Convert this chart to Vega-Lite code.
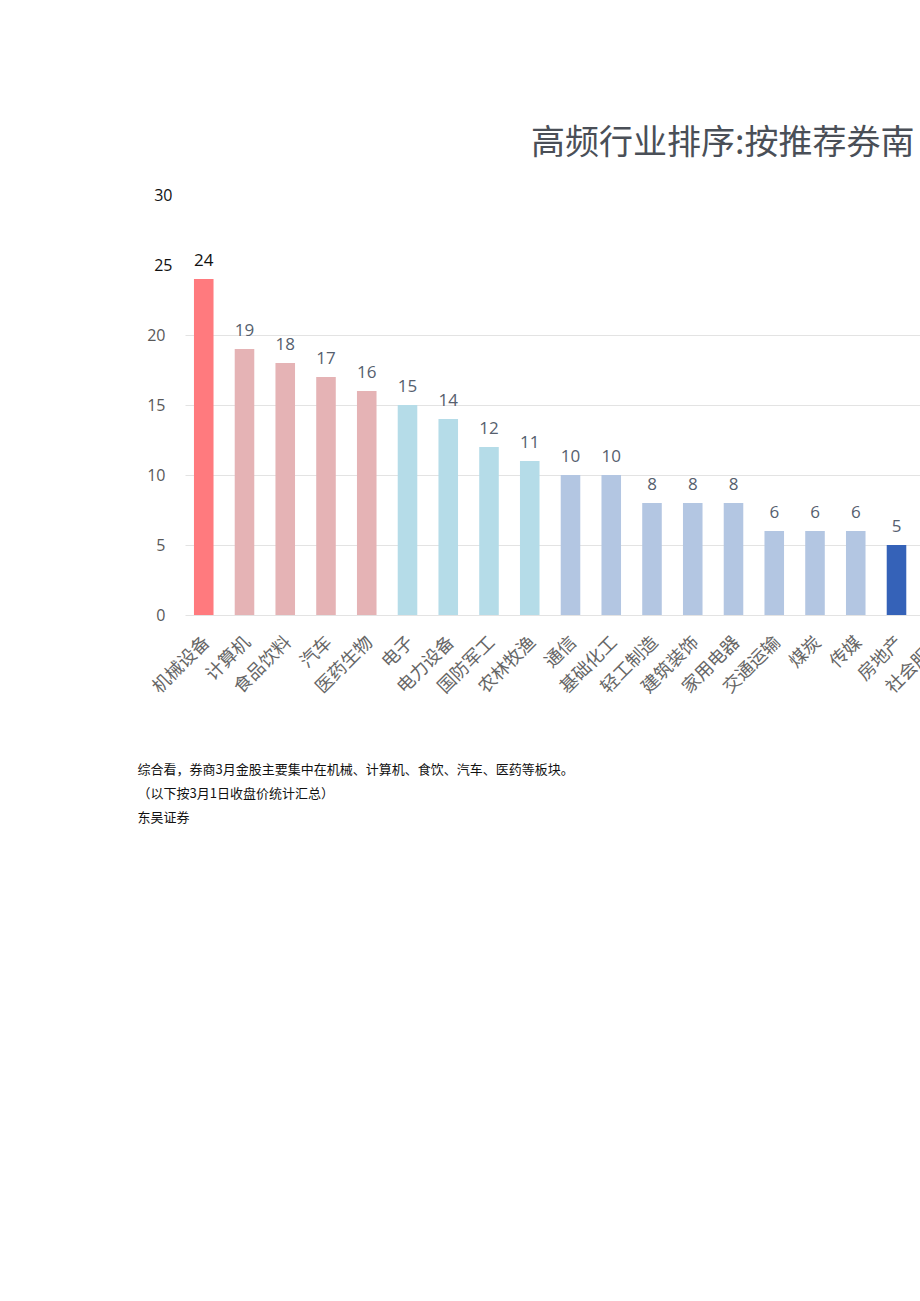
{
  "$schema": "https://vega.github.io/schema/vega-lite/v6.json",
  "autosize": "none",
  "width": 728,
  "height": 420,
  "padding": {"left": 185, "top": 195, "right": 7, "bottom": 686},
  "background": "white",
  "config": {"view": {"stroke": null}},
  "title": {
    "text": "高频行业排序:按推荐券南",
    "anchor": "start",
    "frame": "group",
    "dx": 346,
    "offset": 26,
    "font": "Noto Sans CJK SC",
    "fontSize": 34,
    "fontWeight": "normal",
    "color": "#4a4f57"
  },
  "data": {
    "values": [
      {"industry": "机械设备", "n": 24, "tier": "t1"},
      {"industry": "计算机", "n": 19, "tier": "t2"},
      {"industry": "食品饮料", "n": 18, "tier": "t2"},
      {"industry": "汽车", "n": 17, "tier": "t2"},
      {"industry": "医药生物", "n": 16, "tier": "t2"},
      {"industry": "电子", "n": 15, "tier": "t3"},
      {"industry": "电力设备", "n": 14, "tier": "t3"},
      {"industry": "国防军工", "n": 12, "tier": "t3"},
      {"industry": "农林牧渔", "n": 11, "tier": "t3"},
      {"industry": "通信", "n": 10, "tier": "t4"},
      {"industry": "基础化工", "n": 10, "tier": "t4"},
      {"industry": "轻工制造", "n": 8, "tier": "t4"},
      {"industry": "建筑装饰", "n": 8, "tier": "t4"},
      {"industry": "家用电器", "n": 8, "tier": "t4"},
      {"industry": "交通运输", "n": 6, "tier": "t4"},
      {"industry": "煤炭", "n": 6, "tier": "t4"},
      {"industry": "传媒", "n": 6, "tier": "t4"},
      {"industry": "房地产", "n": 5, "tier": "t5"},
      {"industry": "社会服务", "n": 5, "tier": "t5"}
    ]
  },
  "encoding": {
    "x": {
      "field": "industry",
      "type": "nominal",
      "sort": null,
      "scale": {"range": [0, 771], "paddingInner": 0.52, "paddingOuter": 0.22},
      "axis": {
        "labelAngle": -45,
        "labelFont": "Noto Sans CJK SC",
        "labelFontSize": 18,
        "labelColor": "#666666",
        "labelPadding": 18,
        "labelOffset": -3,
        "ticks": false,
        "domain": false,
        "labelOverlap": false,
        "title": ["综合看，券商3月金股主要集中在机械、计算机、食饮、汽车、医药等板块。", "（以下按3月1日收盘价统计汇总）", "东吴证券"],
        "titleFont": "Noto Sans CJK SC",
        "titleFontSize": 13,
        "titleFontWeight": "normal",
        "titleColor": "#111111",
        "titleAlign": "left",
        "titleAnchor": "start",
        "titleBaseline": "top",
        "titleLineHeight": 24,
        "titleX": -48,
        "titleY": 148,
        "titleAngle": 0
      }
    },
    "y": {
      "field": "n",
      "type": "quantitative",
      "scale": {"domain": [0, 30]},
      "axis": {
        "values": [0, 5, 10, 15, 20, 25, 30],
        "title": null,
        "domain": false,
        "ticks": false,
        "labelFont": "Open Sans",
        "labelFontSize": 16,
        "labelColor": {"condition": {"test": "datum.value >= 25", "value": "#111111"}, "value": "#595959"},
        "labelPadding": {"condition": {"test": "datum.value >= 25", "value": 13}, "value": 20},
        "gridColor": "#e3e3e3",
        "gridWidth": 1,
        "gridOpacity": {"condition": {"test": "datum.value > 20", "value": 0}, "value": 1}
      }
    }
  },
  "layer": [
    {
      "mark": {"type": "bar"},
      "encoding": {
        "color": {
          "field": "tier",
          "type": "nominal",
          "legend": null,
          "scale": {
            "domain": ["t1", "t2", "t3", "t4", "t5"],
            "range": ["#ff7a7e", "#e5b3b5", "#b5dce8", "#b3c6e2", "#3562b8"]
          }
        }
      }
    },
    {
      "mark": {"type": "text", "baseline": "bottom", "dy": -9, "font": "Open Sans", "fontSize": 17},
      "encoding": {
        "text": {"field": "n", "type": "quantitative"},
        "color": {"condition": {"test": "datum.n >= 24", "value": "#111111"}, "value": "#56606e"}
      }
    }
  ]
}
